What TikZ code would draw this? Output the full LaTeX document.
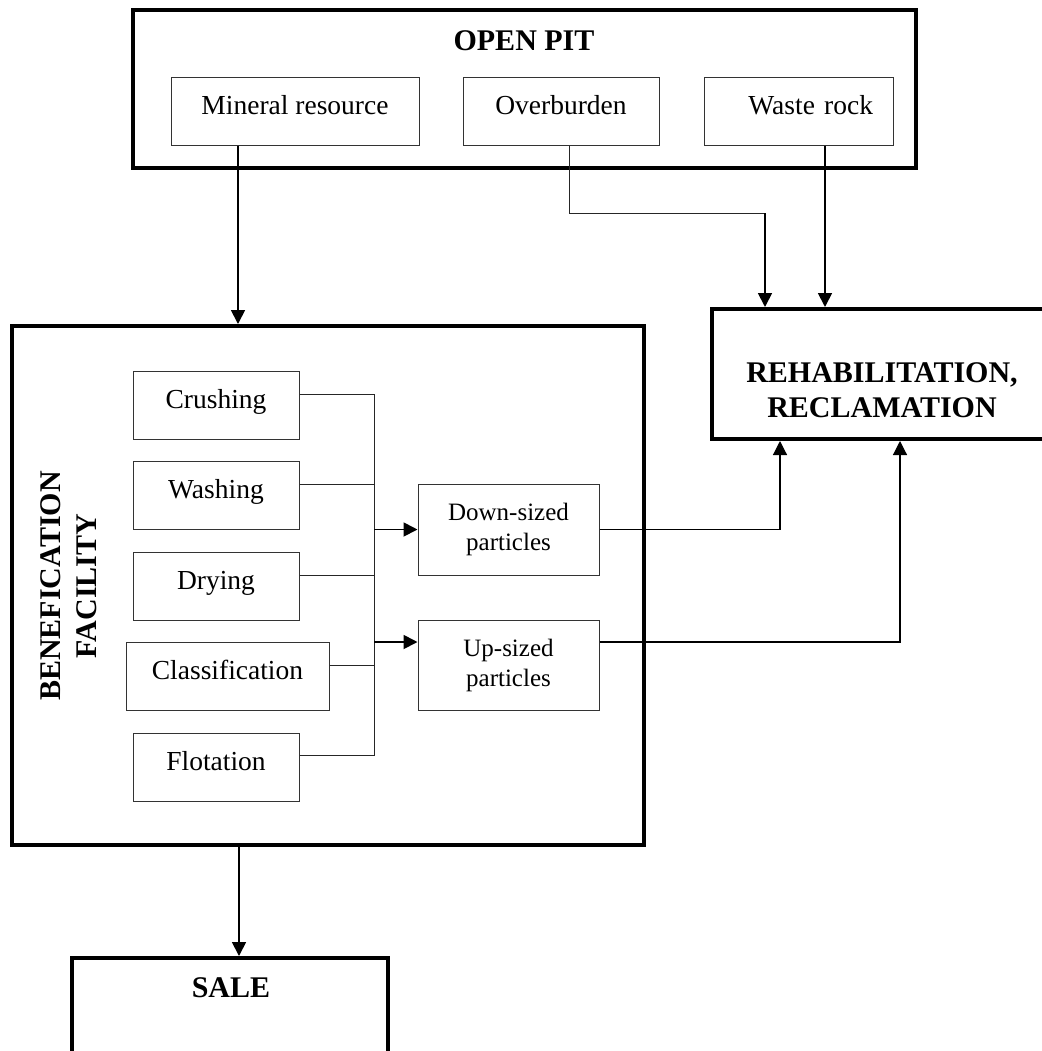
\documentclass[tikz,border=0pt]{standalone}
\usepackage{fontspec}
\setmainfont{Liberation Serif}
\usepackage{tikz}
\usetikzlibrary{positioning,arrows.meta,calc}

\begin{document}
\begin{tikzpicture}[
  x=0.5pt, y=-0.5pt,
  font=\fontsize{13.75}{16}\selectfont,
  big/.style={draw, line width=2pt, inner sep=0pt},
  b/.style={draw=black!80, line width=0.5pt, inner sep=0pt, minimum height=34pt, text height=9pt, text depth=6pt},
  pb/.style={draw=black!80, line width=0.5pt, align=center, inner sep=0pt, minimum width=90.5pt, font=\fontsize{12.5}{15}\selectfont},
  hd/.style={font=\fontsize{15}{17.5}\selectfont\bfseries, align=center, inner sep=0pt},
  arr/.style={-{Triangle[length=7pt,width=7pt]}, line width=0.9pt},
  ln/.style={draw=black!85, line width=0.5pt}]

\useasboundingbox (0,0) rectangle (1041,1051);

% containers
\node[big, minimum width=391.5pt, minimum height=79pt] (pit) at (524.5,89) {};
\node[big, minimum width=166.5pt, minimum height=65pt] (rehab) at (878.5,374) {};
\node[big, minimum width=316pt, minimum height=259.5pt] (benef) at (328,585.5) {};
\node[big, minimum width=158pt, minimum height=56pt] (sale) at (230,1014) {};

\node[hd] (pittl) at (524,41) {OPEN PIT};
\node[hd] (rehabtl) at (882,390.5) {REHABILITATION,\\RECLAMATION};
\node[hd, rotate=90, font=\fontsize{15}{18}\selectfont\bfseries] (beneftl) at (68.5,586) {BENEFICATION\\FACILITY};
\node[hd] (saletl) at (231,988) {SALE};

% open pit
\node[b, minimum width=124pt] (minres) at (295,111.5) {Mineral resource};
\node[b, minimum width=98pt] (overb) at (561,111.5) {Overburden};
\node[b, minimum width=94.5pt, text width=74.5pt, align=right] (waste) at (798.5,111.5) {Waste rock};

% benefication
\node[b, minimum width=83pt] (crush) at (216,405) {Crushing};
\node[b, minimum width=83pt] (wash) at (216,495.5) {Washing};
\node[b, minimum width=83pt] (dry) at (216,586) {Drying};
\node[b, minimum width=101.5pt] (class) at (227.5,676) {Classification};
\node[b, minimum width=83pt] (flot) at (216,767) {Flotation};

\node[pb, minimum height=45.5pt] (down) at (508.5,529.5) {Down-sized\\particles};
\node[pb, minimum height=45pt] (up) at (508.5,665) {Up-sized\\particles};

\coordinate (bus) at (374,0);
\foreach \n in {crush,wash,dry,class} {
  \coordinate (t) at ([yshift=5.5pt]\n.east);
  \draw[ln] (t) -- (t -| bus);
}
\coordinate (ft) at ([yshift=6pt]flot.east);
\coordinate (ct) at ([yshift=5.5pt]crush.east);
\draw[ln] (ft) -| (ct -| bus);

\coordinate (upin) at ([yshift=11.5pt]up.west);
\draw[arr] (down.west -| bus) -- (down.west);
\draw[arr] (upin -| bus) -- (upin);

% flows
\coordinate (mr) at ([xshift=-28.5pt]minres.south);
\draw[arr] (mr) -- (mr |- benef.north);
\coordinate (bs) at ([xshift=-44.5pt]benef.south);
\draw[arr] (bs) -- (bs |- sale.north);

\coordinate (ob) at ([xshift=4pt]overb.south);
\coordinate (obend) at (765,213);
\draw[ln] (ob) |- (obend);
\draw[arr] (obend) -- (obend |- rehab.north);
\coordinate (wr) at ([xshift=13.25pt]waste.south);
\draw[arr] (wr) -- (wr |- rehab.north);

\coordinate (upout) at ([yshift=11.5pt]up.east);
\draw[arr, line width=0.6pt] (down.east) -| ([xshift=-49.25pt]rehab.south);
\draw[arr, line width=0.6pt] (upout) -| ([xshift=10.75pt]rehab.south);
\end{tikzpicture}
\end{document}
